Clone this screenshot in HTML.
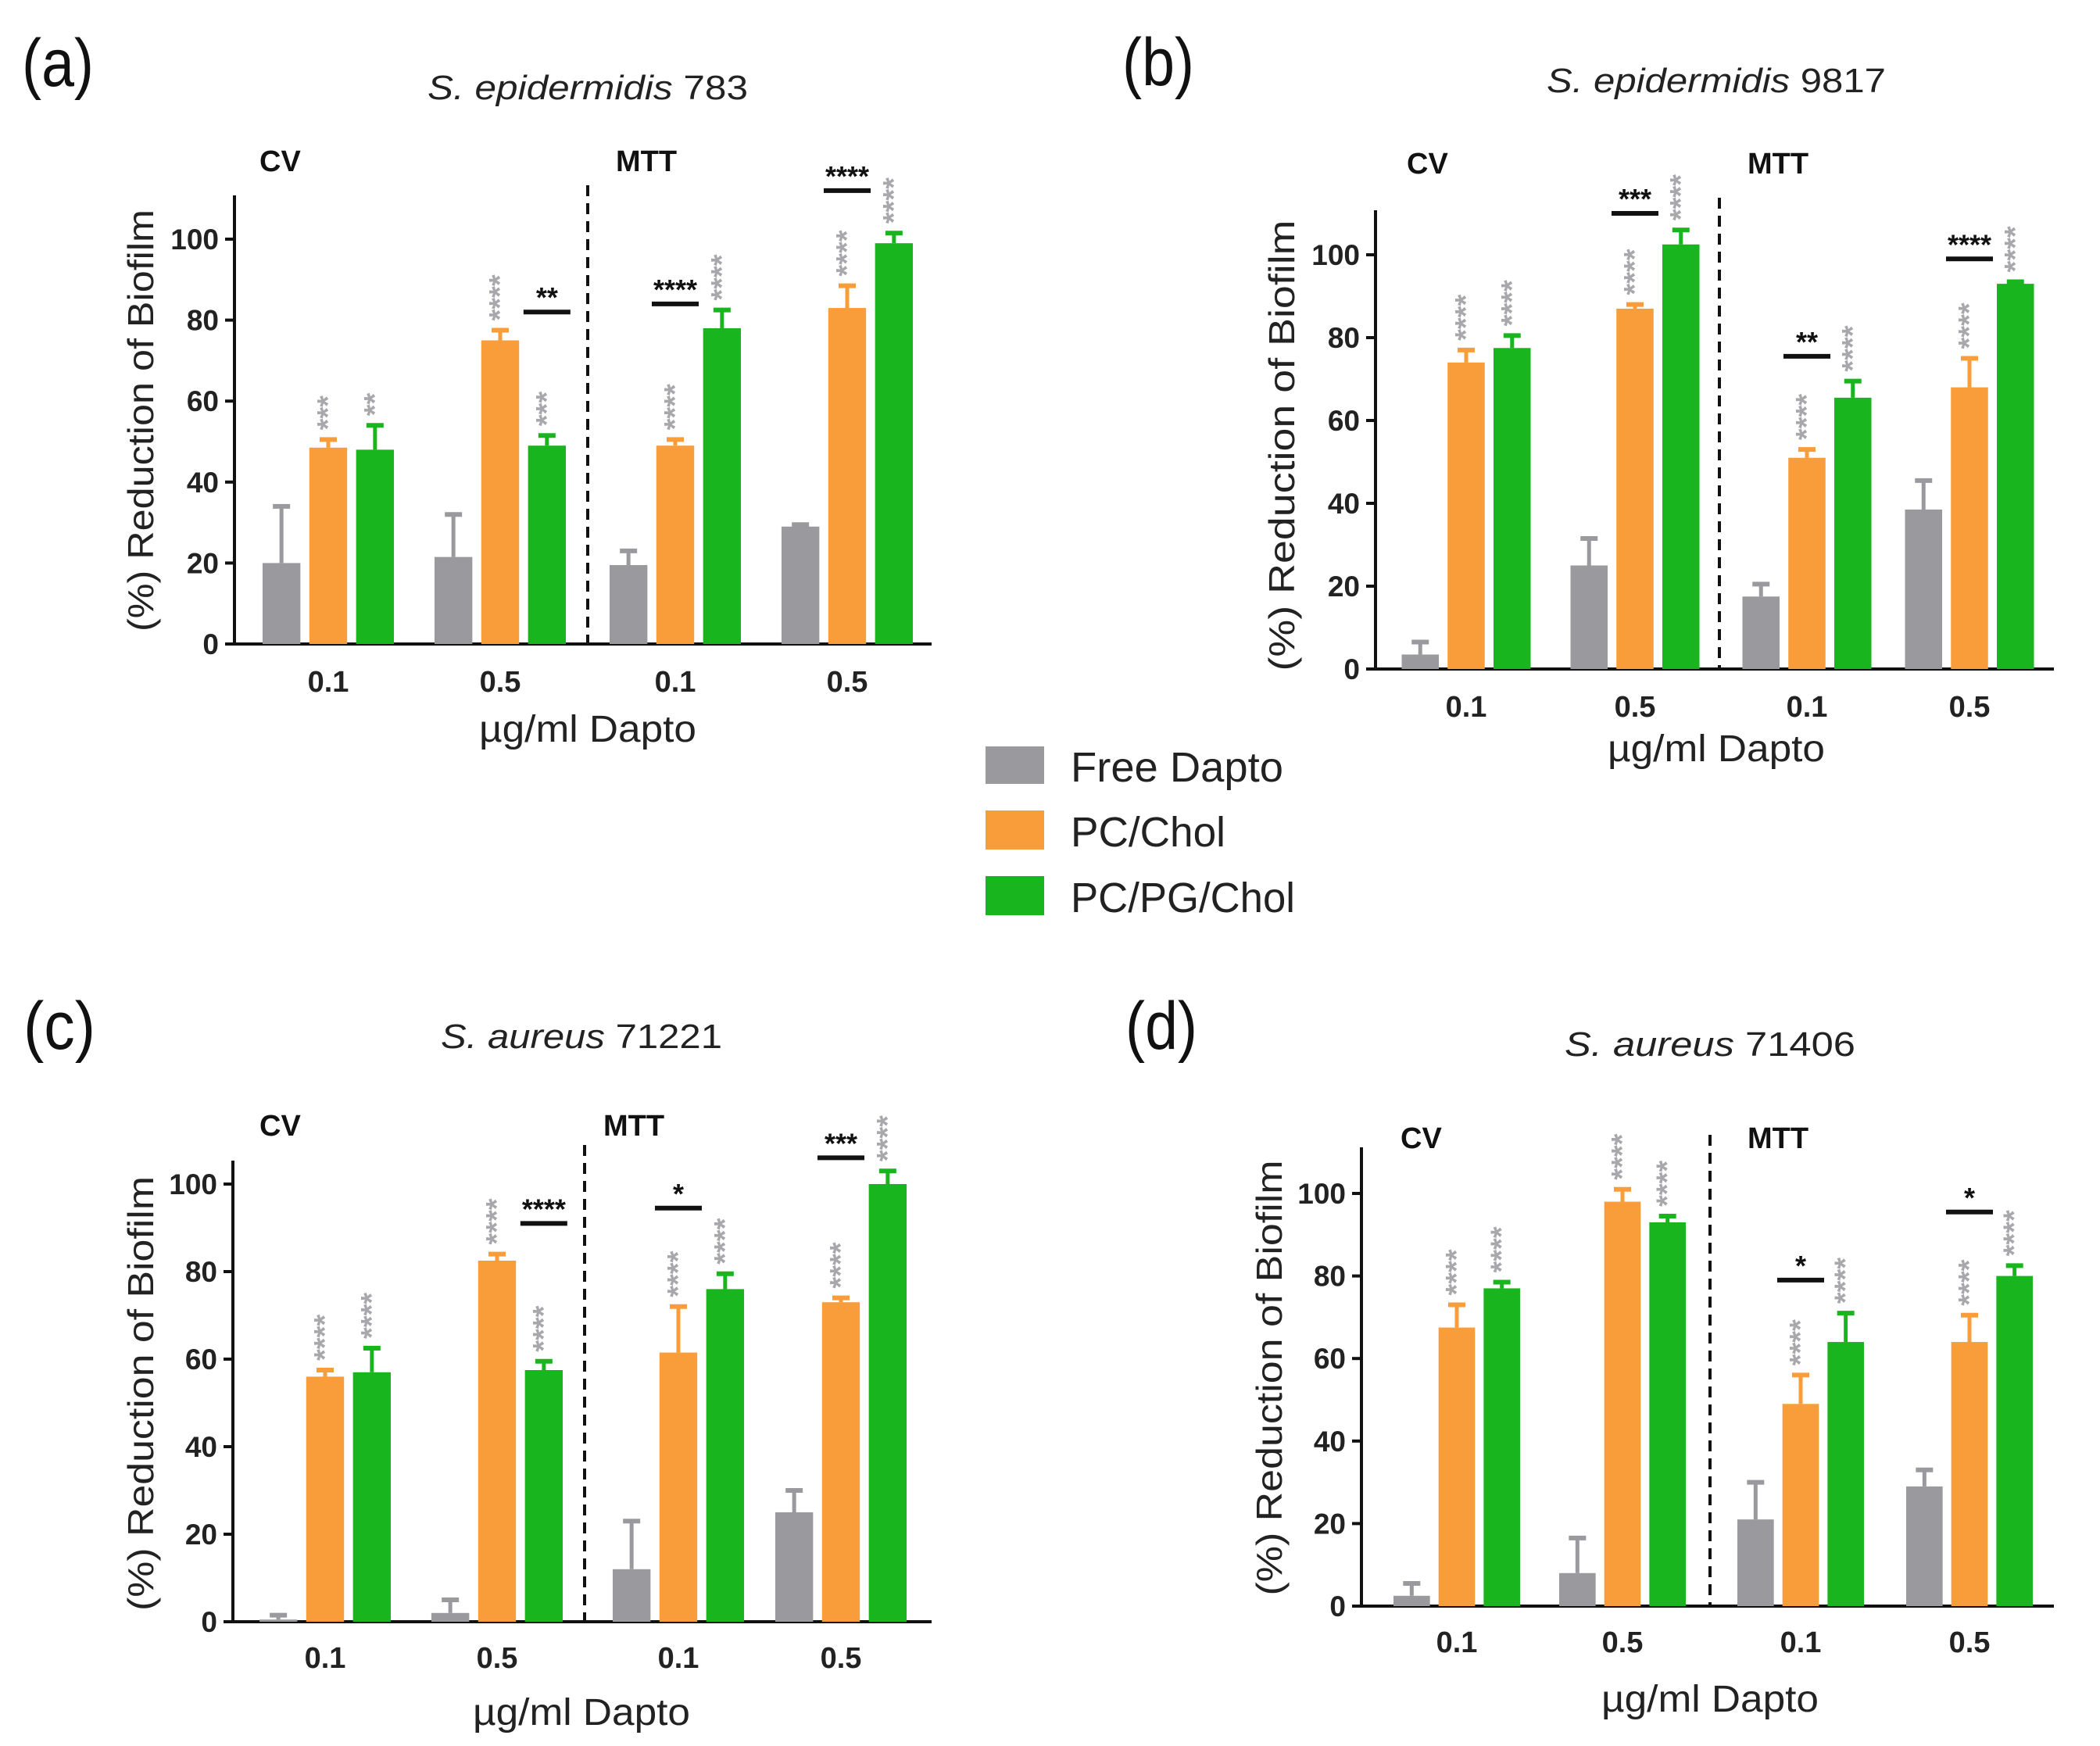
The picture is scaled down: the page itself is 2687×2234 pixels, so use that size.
<!DOCTYPE html>
<html><head><meta charset="utf-8">
<style>
html,body{margin:0;padding:0;background:#fff;}
svg{display:block;font-family:"Liberation Sans",Arial,sans-serif;}
</style></head>
<body>
<svg id="fig" width="2687" height="2234" viewBox="0 0 2687 2234" xmlns="http://www.w3.org/2000/svg">
<g>
  <rect x="1261" y="955" width="75" height="48" fill="#9a9a9e"/>
  <text x="1370" y="1000" font-size="54" fill="#222" textLength="272" lengthAdjust="spacingAndGlyphs">Free Dapto</text>
  <rect x="1261" y="1037" width="75" height="50" fill="#f99d3a"/>
  <text x="1370" y="1083" font-size="54" fill="#222" textLength="198" lengthAdjust="spacingAndGlyphs">PC/Chol</text>
  <rect x="1261" y="1121" width="75" height="50" fill="#19b51e"/>
  <text x="1370" y="1167" font-size="54" fill="#222" textLength="287" lengthAdjust="spacingAndGlyphs">PC/PG/Chol</text>
</g>
</svg>
<script>
// ---- data ----
const categories = ["0.1","0.5","0.1","0.5"];
const seriesNames = ["Free Dapto","PC/Chol","PC/PG/Chol"];
const yTicks = [0,20,40,60,80,100];

const aFree = [20,21.5,19.5,29];     const aFreeErr = [34,32,23,29.5];
const aPC = [48.5,75,49,83];         const aPCErr = [50.5,77.5,50.5,88.5];
const aPG = [48,49,78,99];           const aPGErr = [54,51.5,82.5,101.5];
const aPCStars = ["***","****","****","****"];
const aPGStars = ["**","***","****","****"];
const aSig = [[1,2,82,"**"],[2,1,84,"****"],[3,1,112,"****"]];

const bFree = [3.5,25,17.5,38.5];    const bFreeErr = [6.5,31.5,20.5,45.5];
const bPC = [74,87,51,68];           const bPCErr = [77,88,53,75];
const bPG = [77.5,102.5,65.5,93];    const bPGErr = [80.5,106,69.5,93.5];
const bPCStars = ["****","****","****","****"];
const bPGStars = ["****","****","****","****"];
const bSig = [[1,1,110,"***"],[2,1,75.5,"**"],[3,1,99,"****"]];

const cFree = [0.5,2,12,25];         const cFreeErr = [1.5,5,23,30];
const cPC = [56,82.5,61.5,73];       const cPCErr = [57.5,84,72,74];
const cPG = [57,57.5,76,100];        const cPGErr = [62.5,59.5,79.5,103];
const cPCStars = ["****","****","****","****"];
const cPGStars = ["****","****","****","****"];
const cSig = [[1,2,91,"****"],[2,1,94.5,"*"],[3,1,106,"***"]];

const dFree = [2.5,8,21,29];         const dFreeErr = [5.5,16.5,30,33];
const dPC = [67.5,98,49,64];         const dPCErr = [73,101,56,70.5];
const dPG = [77,93,64,80];           const dPGErr = [78.5,94.5,71,82.5];
const dPCStars = ["****","****","****","****"];
const dPGStars = ["****","****","****","****"];
const dSig = [[2,1,79,"*"],[3,1,95.5,"*"]];

const COLORS = ["#9a9a9e","#f99d3a","#19b51e"];
const NS = "http://www.w3.org/2000/svg";
const svg = document.getElementById('fig');

function mk(tag, attrs, parent, txt){
  const e = document.createElementNS(NS, tag);
  for (const k in attrs) e.setAttribute(k, attrs[k]);
  if (txt !== undefined) e.textContent = txt;
  parent.appendChild(e);
  return e;
}

function panel(cfg){
  const g = mk('g', {}, svg);
  
  
  const yS = v => cfg.y0 - (cfg.y0 - cfg.y100) * v / 100;
  const xS = i => cfg.centers[i];
  const S = cfg.centers[1] - cfg.centers[0];
  const bw = S * 0.22, step = S * 0.272;

  const lab = mk('text', {x: cfg.labX, y: cfg.labY, 'font-size': 86, fill: '#111', textLength: 92, lengthAdjust: 'spacingAndGlyphs'}, g, '(' + cfg.id + ')');
  
  

  const t = mk('text', {x: cfg.titleX, y: cfg.titleY + 15, 'font-size': 44, 'text-anchor': 'middle', fill: '#222', textLength: cfg.titleLen, lengthAdjust: 'spacingAndGlyphs'}, g);
  
  
  mk('tspan', {'font-style': 'italic'}, t, cfg.species + ' ');
  mk('tspan', {}, t, cfg.strain);

  const cv = mk('text', {x: cfg.cvX, y: cfg.cvY + 14, 'font-size': 38, 'font-weight': 'bold', fill: '#111'}, g, 'CV');
  
  
  const mtt = mk('text', {x: cfg.mttX, y: cfg.cvY + 14, 'font-size': 38, 'font-weight': 'bold', fill: '#111'}, g, 'MTT');
  
  

  const ya = mk('line', {x1: cfg.ax, y1: cfg.top, x2: cfg.ax, y2: cfg.y0 + 2, stroke: '#111', 'stroke-width': 4}, g);
  
  
  yTicks.forEach(v => {
    const tk = mk('line', {x1: cfg.ax - 12, y1: yS(v), x2: cfg.ax, y2: yS(v), stroke: '#111', 'stroke-width': 4}, g);
    
    
    const tl = mk('text', {x: cfg.ax - 20, y: yS(v) + 13, 'font-size': 37, 'font-weight': 'bold', 'text-anchor': 'end', fill: '#222'}, g, String(v));
    
    
  });
  const xa = mk('line', {x1: cfg.ax - 2, y1: cfg.y0, x2: cfg.xEnd, y2: cfg.y0, stroke: '#111', 'stroke-width': 4}, g);
  
  

  const yl = mk('text', {x: 0, y: 0, 'font-size': 46, 'text-anchor': 'middle', fill: '#222',
    transform: `translate(${cfg.ylX + 16},${cfg.ylY}) rotate(-90)`, textLength: cfg.ylLen, lengthAdjust: 'spacingAndGlyphs'}, g, '(%) Reduction of Biofilm');
  
  

  const dl = mk('line', {x1: cfg.dashX, y1: cfg.dashTop, x2: cfg.dashX, y2: cfg.y0, stroke: '#111', 'stroke-width': 4, 'stroke-dasharray': '14 9'}, g);
  
  

  categories.forEach((c, i) => {
    const tl = mk('text', {x: xS(i), y: cfg.tickY + 13, 'font-size': 38, 'font-weight': 'bold', 'text-anchor': 'middle', fill: '#222'}, g, c);
    
    
  });
  const xt = mk('text', {x: cfg.titleX, y: cfg.xtY + 16, 'font-size': 48, 'text-anchor': 'middle', fill: '#222', textLength: 278, lengthAdjust: 'spacingAndGlyphs'}, g, 'µg/ml Dapto');
  
  

  const vals = [cfg.free, cfg.pc, cfg.pg];
  const errs = [cfg.freeErr, cfg.pcErr, cfg.pgErr];
  const stars = [null, cfg.pcStars, cfg.pgStars];
  const names = ['free-dapto', 'pc-chol', 'pc-pg-chol'];
  categories.forEach((c, i) => {
    for (let s = 0; s < 3; s++) {
      const cx = xS(i) + (s - 1) * step;
      const v = vals[s][i], e = errs[s][i];
      const ey = yS(e);
      const el = mk('line', {x1: cx, y1: ey, x2: cx, y2: yS(v), stroke: COLORS[s], 'stroke-width': 5}, g);
      
      
      const cap = mk('line', {x1: cx - 11, y1: ey, x2: cx + 11, y2: ey, stroke: COLORS[s], 'stroke-width': 6}, g);
      
      
      const r = mk('rect', {x: cx - bw / 2, y: yS(v), width: bw, height: cfg.y0 - yS(v), fill: COLORS[s]}, g);
      
      
      if (stars[s]) {
        const st = mk('text', {x: 0, y: 0, 'font-size': 38, 'font-weight': 'bold', fill: '#a8a8ac',
          transform: `translate(${cx + 12},${ey - 12}) rotate(-90)`}, g, stars[s][i]);
        
        
      }
    }
  });
  cfg.sig.forEach(sg => {
    const cx = xS(sg[0]) + (sg[1] - 1) * step;
    const y = yS(sg[2]);
    const ln = mk('line', {x1: cx - 30, y1: y, x2: cx + 30, y2: y, stroke: '#111', 'stroke-width': 6}, g);
    
    
    const tx = mk('text', {x: cx, y: y - 6, 'font-size': 36, 'font-weight': 'bold', 'text-anchor': 'middle', fill: '#111'}, g, sg[3]);
    
    
  });
}

panel({id:'a', species:'S. epidermidis', strain:'783', labX:28, labY:110, titleX:752, titleY:112, titleLen:410,
  cvX:332, mttX:788, cvY:205, ax:300, xEnd:1192, y0:824, y100:306, top:250,
  centers:[420,640,864,1084], dashX:752, dashTop:237, tickY:872, xtY:933, ylX:180, ylY:538, ylLen:540,
  free:aFree, freeErr:aFreeErr, pc:aPC, pcErr:aPCErr, pg:aPG, pgErr:aPGErr, pcStars:aPCStars, pgStars:aPGStars, sig:aSig});
panel({id:'b', species:'S. epidermidis', strain:'9817', labX:1436, labY:109, titleX:2196, titleY:103, titleLen:434,
  cvX:1800, mttX:2236, cvY:208, ax:1760, xEnd:2628, y0:856, y100:326, top:269,
  centers:[1876,2092,2312,2520], dashX:2200, dashTop:253, tickY:904, xtY:958, ylX:1640, ylY:570, ylLen:577,
  free:bFree, freeErr:bFreeErr, pc:bPC, pcErr:bPCErr, pg:bPG, pgErr:bPGErr, pcStars:bPCStars, pgStars:bPGStars, sig:bSig});
panel({id:'c', species:'S. aureus', strain:'71221', labX:30, labY:1342, titleX:744, titleY:1326, titleLen:360,
  cvX:332, mttX:772, cvY:1439, ax:298, xEnd:1192, y0:2075, y100:1515, top:1485,
  centers:[416,636,868,1076], dashX:748, dashTop:1465, tickY:2121, xtY:2191, ylX:180, ylY:1783, ylLen:556,
  free:cFree, freeErr:cFreeErr, pc:cPC, pcErr:cPCErr, pg:cPG, pgErr:cPGErr, pcStars:cPCStars, pgStars:cPGStars, sig:cSig});
panel({id:'d', species:'S. aureus', strain:'71406', labX:1440, labY:1342, titleX:2188, titleY:1336, titleLen:372,
  cvX:1792, mttX:2236, cvY:1455, ax:1742, xEnd:2628, y0:2055, y100:1527, top:1468,
  centers:[1864,2076,2304,2520], dashX:2188, dashTop:1452, tickY:2101, xtY:2174, ylX:1624, ylY:1763, ylLen:557,
  free:dFree, freeErr:dFreeErr, pc:dPC, pcErr:dPCErr, pg:dPG, pgErr:dPGErr, pcStars:dPCStars, pgStars:dPGStars, sig:dSig});
</script>
</body></html>
